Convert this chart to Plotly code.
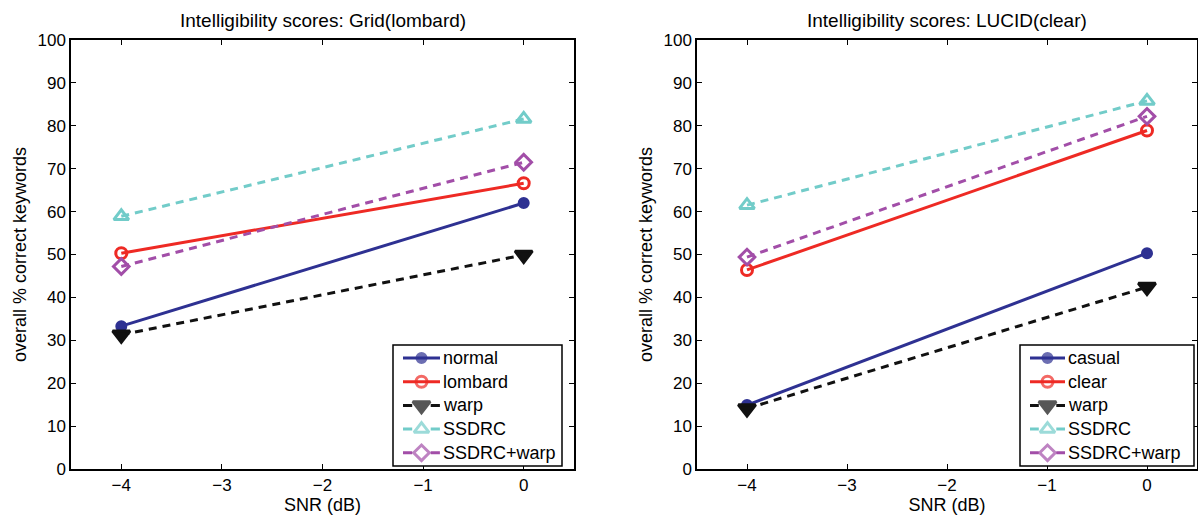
import plotly.graph_objects as go

# SNR conditions (dB)
snr = [-4, 0]

# Grid (lombard) corpus scores
grid_names = ["normal", "lombard", "warp", "SSDRC", "SSDRC+warp"]
grid_normal = [33.3, 62.0]
grid_lombard = [50.3, 66.6]
grid_warp = [31.3, 49.9]
grid_ssdrc = [58.9, 81.6]
grid_ssdrc_warp = [47.2, 71.5]

# LUCID (clear) corpus scores
lucid_names = ["casual", "clear", "warp", "SSDRC", "SSDRC+warp"]
lucid_casual = [14.9, 50.3]
lucid_clear = [46.4, 78.9]
lucid_warp = [14.1, 42.4]
lucid_ssdrc = [61.5, 85.8]
lucid_ssdrc_warp = [49.4, 82.2]

x_ticks = [-4, -3, -2, -1, 0]
x_tick_text = ["\u22124", "\u22123", "\u22122", "\u22121", "0"]
y_ticks = list(range(0, 101, 10))

styles = [
    dict(color="#2E3192", dash="solid", symbol="circle", size=9),
    dict(color="#EE2A24", dash="solid", symbol="circle-open", size=11),
    dict(color="#111111", dash="8px,6px", symbol="triangle-down", size=15),
    dict(color="#72CCC9", dash="8px,6px", symbol="triangle-up-open", size=13),
    dict(color="#A24EA8", dash="8px,6px", symbol="diamond-open", size=12),
]

FONT = "Arial"
W, H = 1198, 515
TOP, BOTTOM = 40, 469  # pixel rows of the plotting area

fig = go.Figure()

def add_panel(names, series, xa, ya):
    for name, ys, st in zip(names, series, styles):
        fig.add_trace(go.Scatter(
            x=snr, y=ys, name=name, mode="lines+markers",
            xaxis=xa, yaxis=ya, showlegend=False,
            line=dict(color=st["color"], width=3, dash=st["dash"]),
            marker=dict(symbol=st["symbol"], size=st["size"], color=st["color"],
                        line=dict(color=st["color"], width=3)),
        ))

add_panel(grid_names, [grid_normal, grid_lombard, grid_warp, grid_ssdrc, grid_ssdrc_warp],
          "x", "y")
add_panel(lucid_names, [lucid_casual, lucid_clear, lucid_warp, lucid_ssdrc, lucid_ssdrc_warp],
          "x2", "y2")

# Boxed legends drawn on a pixel-unit overlay axis pair (x3/y3)
shapes = []
annotations = []

def add_legend(names, box_left, box_right, sample_left, sample_right, text_left,
               box_top=345, box_bottom=466, row0=358, row_step=23.7):
    shapes.append(dict(type="rect", xref="x3", yref="y3", x0=box_left, x1=box_right,
                       y0=box_top, y1=box_bottom, line=dict(color="black", width=1.5),
                       fillcolor="white", layer="below"))
    for i, (name, st) in enumerate(zip(names, styles)):
        yrow = row0 + i * row_step
        xm = (sample_left + sample_right) / 2
        seg = (sample_right - sample_left) / 4
        fig.add_trace(go.Scatter(
            x=[sample_left, xm, sample_right], y=[yrow] * 3, mode="lines+markers",
            xaxis="x3", yaxis="y3", showlegend=False, hoverinfo="skip",
            line=dict(color=st["color"], width=3,
                      dash="solid" if st["dash"] == "solid"
                      else f"{seg:.1f}px,{(sample_right - sample_left) - 2 * seg:.1f}px"),
            marker=dict(symbol=st["symbol"], size=[0, st["size"], 0], color=st["color"],
                        line=dict(color=st["color"], width=3)),
        ))
        annotations.append(dict(text=name, x=text_left, y=yrow, xref="x3", yref="y3",
                                xanchor="left", yanchor="middle", showarrow=False,
                                font=dict(family=FONT, size=18, color="black")))

add_legend(grid_names, 393, 562, 403, 440, 441)
add_legend(lucid_names, 1020, 1194, 1030, 1065, 1066)

axis_common = dict(
    showline=True, linecolor="black", linewidth=1.5, mirror="ticks",
    ticks="inside", ticklen=5, tickwidth=1, tickcolor="black",
    showgrid=False, zeroline=False,
    tickfont=dict(family=FONT, size=17, color="black"),
)
xaxis_common = dict(axis_common, range=[-4.5, 0.5], tickvals=x_ticks, ticktext=x_tick_text,
                    title=dict(text="SNR (dB)", font=dict(family=FONT, size=18, color="black"),
                               standoff=2))
yaxis_common = dict(axis_common, range=[0, 100], tickvals=y_ticks,
                    title=dict(text="overall % correct keywords",
                               font=dict(family=FONT, size=18, color="black"), standoff=6))

for title, xc in [("Intelligibility scores: Grid(lombard)", (71 + 574) / 2 / W),
                  ("Intelligibility scores: LUCID(clear)", (697 + 1197) / 2 / W)]:
    annotations.append(dict(text=title, x=xc, y=1, xref="paper", yref="paper",
                            xanchor="center", yanchor="bottom", yshift=7, showarrow=False,
                            font=dict(family=FONT, size=19, color="black")))

fig.update_layout(
    width=W, height=H,
    margin=dict(l=0, r=0, t=TOP, b=H - BOTTOM),
    paper_bgcolor="white", plot_bgcolor="rgba(0,0,0,0)",
    showlegend=False,
    xaxis=dict(xaxis_common, domain=[71 / W, 574 / W], anchor="y"),
    yaxis=dict(yaxis_common, domain=[0, 1], anchor="x"),
    xaxis2=dict(xaxis_common, domain=[697 / W, 1197 / W], anchor="y2"),
    yaxis2=dict(yaxis_common, domain=[0, 1], anchor="x2"),
    xaxis3=dict(domain=[0, 1], range=[0, W], visible=False, anchor="y3", fixedrange=True),
    yaxis3=dict(domain=[0, 1], range=[BOTTOM, TOP], visible=False, anchor="x3", fixedrange=True),
    shapes=shapes,
    annotations=annotations,
)

fig.write_html("out.html")
